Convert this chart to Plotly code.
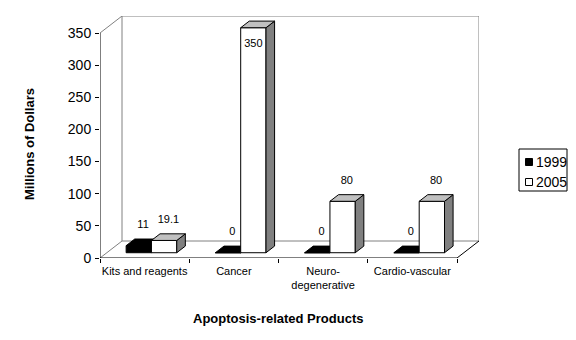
import plotly.graph_objects as go

# ---------------- data ----------------
categories = ["Kits and reagents", "Cancer", "Neuro-<br>degenerative", "Cardio-vascular"]
series_names = ["1999", "2005"]
values_1999 = [11, 0, 0, 0]
values_2005 = [19.1, 350, 80, 80]
y_tick_vals = [0, 50, 100, 150, 200, 250, 300, 350]

# ---------------- geometry / style ----------------
W, H = 576, 340
ML, MR, MT, MB = 100, 97, 16, 82
N = len(categories)
YMAX = 350
DEPTH_X = 0.2465          # oblique depth in category units
DEPTH_Y = 26.44           # oblique depth in value units
BAR_W = 0.2835
D0, D1 = 0.31, 0.70       # bar depth span (fraction of floor depth)
LABEL_PAD = 26            # value units
FONT = "Liberation Sans, Arial, sans-serif"
GRAY = "#808080"

X_RANGE = [0, N + DEPTH_X]
Y_RANGE = [0, YMAX + DEPTH_Y]


def px_x(p):
    return (p - ML) / (W - ML - MR)


def px_y(p):
    return (H - MB - p) / (H - MT - MB)


series = [
    dict(name=series_names[0], values=values_1999, front="black", top="black", side="black", ax=("x", "y")),
    dict(name=series_names[1], values=values_2005, front="white", top="#c0c0c0", side=GRAY, ax=("x2", "y2")),
]

fig = go.Figure()
base = D0 * DEPTH_Y
ddx = (D1 - D0) * DEPTH_X
ddy = (D1 - D0) * DEPTH_Y

for k, s in enumerate(series):
    xa, ya = s["ax"]
    xs = [i + 0.5 + D0 * DEPTH_X - BAR_W / 2 + k * BAR_W for i in range(N)]
    vals = s["values"]
    # front faces
    fig.add_trace(go.Bar(
        x=xs, y=vals, base=[base] * N, width=BAR_W, name=s["name"],
        marker=dict(color=s["front"], line=dict(color="black", width=1)),
        xaxis=xa, yaxis=ya, showlegend=False, hoverinfo="skip"))
    tx, ty, sx, sy = [], [], [], []
    lx, ly, lt = [], [], []
    for xc, v in zip(xs, vals):
        xl, xr = xc - BAR_W / 2, xc + BAR_W / 2
        t = base + v
        tx += [xl, xr, xr + ddx, xl + ddx, xl, None]
        ty += [t, t, t + ddy, t + ddy, t, None]
        sx += [xr, xr, xr + ddx, xr + ddx, xr, None]
        sy += [base, t, t + ddy, base + ddy, base, None]
        ytop = t + ddy / 2
        yl = ytop + LABEL_PAD
        xlab = xc + ddx / 2
        if yl > Y_RANGE[1] - 8:
            yl = ytop - 1.2 * LABEL_PAD
            xlab = xc
        lx.append(xlab)
        ly.append(yl)
        lt.append(f"{v:g}")
    fig.add_trace(go.Scatter(
        x=sx, y=sy, mode="lines", fill="toself", fillcolor=s["side"],
        line=dict(color="black", width=1), xaxis=xa, yaxis=ya,
        showlegend=False, hoverinfo="skip"))
    fig.add_trace(go.Scatter(
        x=tx, y=ty, mode="lines", fill="toself", fillcolor=s["top"],
        line=dict(color="black", width=1), xaxis=xa, yaxis=ya,
        showlegend=False, hoverinfo="skip"))
    fig.add_trace(go.Scatter(
        x=lx, y=ly, mode="text", text=lt, textposition="middle center",
        textfont=dict(family=FONT, size=11, color="black"), cliponaxis=False,
        xaxis=xa, yaxis=ya, showlegend=False, hoverinfo="skip"))

# ---------------- frame (walls / floor) ----------------
frame = [
    # back wall
    (DEPTH_X, DEPTH_Y, DEPTH_X, YMAX + DEPTH_Y, GRAY),
    (DEPTH_X, YMAX + DEPTH_Y, N + DEPTH_X, YMAX + DEPTH_Y, GRAY),
    (N + DEPTH_X, YMAX + DEPTH_Y, N + DEPTH_X, DEPTH_Y, GRAY),
    (DEPTH_X, DEPTH_Y, N + DEPTH_X, DEPTH_Y, GRAY),
    # side wall diagonals
    (0, YMAX, DEPTH_X, YMAX + DEPTH_Y, GRAY),
    (0, 0, DEPTH_X, DEPTH_Y, GRAY),
    # front axes
    (0, 0, 0, YMAX, "black"),
    (0, 0, N, 0, "black"),
    (N, 0, N + DEPTH_X, DEPTH_Y, "black"),
]
shapes = []
for x0, y0, x1, y1, c in frame:
    shapes.append(dict(type="line", xref="x", yref="y", x0=x0, y0=y0, x1=x1, y1=y1,
                       line=dict(color=c, width=1), layer="below"))

# ---------------- manual legend ----------------
shapes.append(dict(type="rect", xref="paper", yref="paper",
                   x0=px_x(519), x1=px_x(567), y0=px_y(191), y1=px_y(149),
                   line=dict(color="black", width=1), fillcolor="white"))
leg_rows = [162, 182]
annotations = []
for s, yc in zip(series, leg_rows):
    shapes.append(dict(type="rect", xref="paper", yref="paper",
                       x0=px_x(525.5), x1=px_x(532.5), y0=px_y(yc + 3.5), y1=px_y(yc - 3.5),
                       line=dict(color="black", width=1), fillcolor=s["front"]))
    annotations.append(dict(text=s["name"], xref="paper", yref="paper",
                            x=px_x(534), y=px_y(yc), xanchor="left", yanchor="middle",
                            showarrow=False, font=dict(family=FONT, size=14, color="black")))

# axis titles
annotations.append(dict(text="<b>Millions of Dollars</b>", xref="paper", yref="paper",
                        x=px_x(29), y=px_y(144), textangle=-90, showarrow=False,
                        xanchor="center", yanchor="middle",
                        font=dict(family=FONT, size=13, color="black")))
annotations.append(dict(text="<b>Apoptosis-related Products</b>", xref="paper", yref="paper",
                        x=px_x(277.5), y=px_y(318), showarrow=False,
                        xanchor="center", yanchor="middle",
                        font=dict(family=FONT, size=13, color="black")))

fig.update_layout(
    width=W, height=H,
    margin=dict(l=ML, r=MR, t=MT, b=MB, autoexpand=False),
    paper_bgcolor="white", plot_bgcolor="white",
    barmode="overlay", showlegend=False,
    shapes=shapes, annotations=annotations,
    font=dict(family=FONT, color="black"),
    xaxis=dict(range=X_RANGE, showgrid=False, zeroline=False, showline=False,
               tickmode="array", tickvals=[i + 0.5 for i in range(N)], ticktext=categories,
               ticks="", tickfont=dict(size=11, family=FONT, color="black"),
               ticklabelstandoff=5,
               minor=dict(tickmode="array", tickvals=list(range(N + 1)), ticks="outside",
                          ticklen=4, tickwidth=1, tickcolor="black"),
               fixedrange=True),
    yaxis=dict(range=Y_RANGE, showgrid=False, zeroline=False, showline=False,
               tickmode="array", tickvals=y_tick_vals, ticks="outside", ticklen=4,
               tickwidth=1, tickcolor="black", ticklabelstandoff=1,
               tickfont=dict(size=14, family=FONT, color="black"), fixedrange=True),
    xaxis2=dict(range=X_RANGE, overlaying="x", anchor="y2", visible=False, fixedrange=True),
    yaxis2=dict(range=Y_RANGE, overlaying="y", anchor="x2", visible=False, fixedrange=True),
)

fig.write_html("out.html")
